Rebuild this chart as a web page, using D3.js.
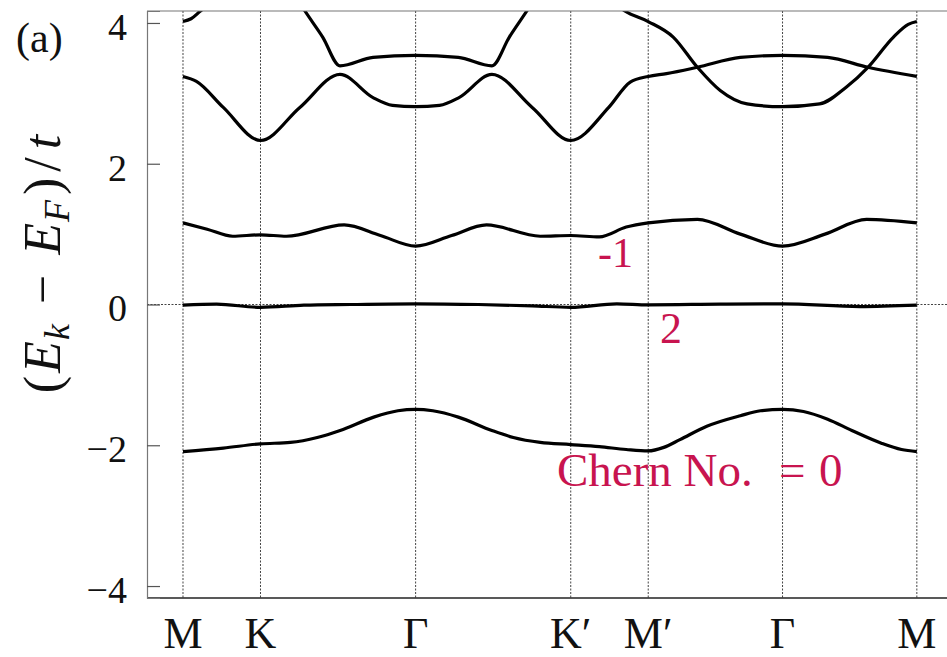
<!DOCTYPE html>
<html>
<head>
<meta charset="utf-8">
<script src="https://cdn.jsdelivr.net/npm/d3@7"></script>
<style>
  body { margin: 0; background: #fff; }
  svg { display: block; }
</style>
</head>
<body>
<div id="chart"></div>
<script>
const W = 947, H = 657;
const serif = '"Liberation Serif", "Times New Roman", serif';

// high-symmetry path M-K-G-K'-M'-G-M (path length in units of |GM|)
const kTicks = [0, 0.577, 1.732, 2.887, 3.464, 4.464, 5.464];
const kLabels = ["M", "K", "Γ", "K′", "M′", "Γ", "M"];
const yTicks = [-4, -2, 0, 2, 4];

// bands, [k, E/t]
const band1 = [[0,-2.09],[0.30,-2.04],[0.577,-1.98],[0.80,-1.96],[1.00,-1.89],[1.17,-1.79],[1.42,-1.60],[1.60,-1.51],[1.732,-1.49],[1.86,-1.51],[2.05,-1.60],[2.30,-1.79],[2.46,-1.89],[2.66,-1.96],[2.887,-1.99],[3.10,-2.02],[3.30,-2.06],[3.464,-2.08],[3.58,-2.03],[3.70,-1.92],[3.90,-1.73],[4.15,-1.58],[4.30,-1.51],[4.464,-1.49],[4.62,-1.52],[4.80,-1.63],[4.98,-1.79],[5.20,-1.97],[5.35,-2.06],[5.464,-2.09]];
const band2 = [[0,-0.01],[0.25,0.005],[0.577,-0.04],[0.90,-0.01],[1.25,0.0],[1.732,0.01],[2.2,0.0],[2.6,-0.02],[2.887,-0.04],[3.23,0.01],[3.464,-0.005],[4.0,0.005],[4.464,0.01],[5.04,-0.03],[5.464,-0.01]];
const band3 = [[0,1.16],[0.18,1.07],[0.37,0.97],[0.577,0.99],[0.77,0.97],[1.20,1.13],[1.47,0.98],[1.732,0.83],[2.00,0.98],[2.26,1.13],[2.66,0.97],[2.887,0.98],[3.10,0.96],[3.30,1.10],[3.464,1.16],[3.83,1.21],[4.15,1.00],[4.464,0.83],[4.78,1.00],[5.09,1.21],[5.464,1.16]];
const band4 = [[0,3.24],[0.10,3.17],[0.30,2.80],[0.577,2.33],[0.87,2.80],[1.169,3.27],[1.415,2.94],[1.56,2.83],[1.732,2.81],[1.91,2.83],[2.055,2.94],[2.30,3.27],[2.60,2.80],[2.887,2.33],[3.17,2.80],[3.33,3.16],[3.464,3.24],[3.60,3.28],[3.83,3.37],[4.15,3.51],[4.464,3.54],[4.80,3.51],[5.10,3.37],[5.464,3.24]];
const band5 = [[0,4.02],[0.06,4.06],[0.13,4.17],[0.35,4.5],[0.577,4.7],[0.80,4.5],[0.908,4.17],[1.04,3.80],[1.169,3.39],[1.415,3.51],[1.732,3.54],[2.05,3.51],[2.30,3.39],[2.43,3.80],[2.56,4.17],[2.67,4.5],[2.887,4.7],[3.10,4.5],[3.29,4.17],[3.464,4.02],[3.65,3.80],[3.83,3.37],[4.0,3.04],[4.20,2.85],[4.464,2.81],[4.74,2.85],[4.94,3.09],[5.10,3.37],[5.29,3.80],[5.40,3.98],[5.464,4.02]];
const bands = [band1, band2, band3, band4, band5];

const svg = d3.select("#chart").append("svg").attr("width", W).attr("height", H);

const x = d3.scaleLinear().domain([-0.268, 5.696]).range([147, 948]);
const y = d3.scaleLinear().domain([-4.17, 4.17]).range([598, 11]);

svg.append("clipPath").attr("id", "plot")
  .append("rect").attr("x", 147).attr("y", 11).attr("width", 801).attr("height", 587);

// dotted guides
svg.selectAll("line.kline").data(kTicks).enter().append("line")
  .attr("class", "kline")
  .attr("x1", d => x(d)).attr("x2", d => x(d))
  .attr("y1", 11).attr("y2", 598)
  .attr("stroke", "#444").attr("stroke-width", 1).attr("stroke-dasharray", "2,1.5");

svg.append("line")
  .attr("x1", 147).attr("x2", 948).attr("y1", y(0)).attr("y2", y(0))
  .attr("stroke", "#444").attr("stroke-width", 1).attr("stroke-dasharray", "2,1.5");

// bands
const line = d3.line().x(d => x(d[0])).y(d => y(d[1])).curve(d3.curveMonotoneX);
svg.append("g").attr("clip-path", "url(#plot)")
  .selectAll("path").data(bands).enter().append("path")
  .attr("d", line)
  .attr("fill", "none").attr("stroke", "#000").attr("stroke-width", 3.2)
  .attr("stroke-linejoin", "round");

// frame
svg.append("line").attr("x1", 147).attr("x2", 948).attr("y1", 11).attr("y2", 11)
  .attr("stroke", "#777").attr("stroke-width", 1.2);
svg.append("line").attr("x1", 147).attr("x2", 948).attr("y1", 598).attr("y2", 598)
  .attr("stroke", "#222").attr("stroke-width", 1.4);

// y axis, inward ticks
const yAxis = svg.append("g").attr("transform", "translate(147,0)")
  .call(d3.axisLeft(y).tickValues(yTicks).tickSize(-13).tickPadding(20));
yAxis.select(".domain").attr("stroke", "#777").attr("stroke-width", 1.2);
yAxis.selectAll(".tick line").attr("stroke", "#555").attr("stroke-width", 1.2);
yAxis.selectAll(".tick text")
  .style("font-family", serif).style("font-size", "38px").attr("fill", "#111")
  .attr("dy", "0.43em");

// x labels
svg.selectAll("text.klab").data(kTicks).enter().append("text")
  .attr("class", "klab")
  .attr("x", d => x(d)).attr("y", 648)
  .attr("text-anchor", "middle").style("font-family", serif).style("font-size", "44px").attr("fill", "#111")
  .text((d, i) => kLabels[i]);

// panel tag
svg.append("text").attr("x", 16).attr("y", 52)
  .style("font-family", serif).style("font-size", "42px").attr("fill", "#111").text("(a)");

// y axis title
const yt = svg.append("text")
  .attr("transform", "translate(60,264) rotate(-90)")
  .attr("text-anchor", "middle").style("font-family", serif).style("font-size", "52px")
  .style("font-weight", "normal").attr("fill", "#111");
yt.append("tspan").text("(");
yt.append("tspan").attr("dx", 3).style("font-style", "italic").text("E");
yt.append("tspan").style("font-style", "italic").style("font-size", "36px").attr("dx", 1).attr("dy", 9).text("k");
yt.append("tspan").attr("dy", -9).attr("dx", 20).text("−");
yt.append("tspan").attr("dx", 20).style("font-style", "italic").text("E");
yt.append("tspan").style("font-style", "italic").style("font-size", "36px").attr("dx", 1).attr("dy", 9).text("F");
yt.append("tspan").attr("dy", -9).attr("dx", 5).text(")");
yt.append("tspan").attr("dx", 6).text("/");
yt.append("tspan").attr("dx", 8).style("font-style", "italic").text("t");

// Chern numbers
const red = "#c8144f";
const chern = [
  { text: "-1", x: 598, y: 267, size: 42 },
  { text: "2", x: 660, y: 343, size: 44 },
  { text: "Chern No.", x: 557, y: 486, size: 47 },
  { text: "=", x: 779, y: 486, size: 47 },
  { text: "0", x: 819, y: 486, size: 47 }
];
svg.selectAll("text.chern").data(chern).enter().append("text")
  .attr("class", "chern")
  .attr("x", d => d.x).attr("y", d => d.y)
  .style("font-family", serif).style("font-size", d => d.size + "px").attr("fill", red)
  .text(d => d.text);
</script>
</body>
</html>
